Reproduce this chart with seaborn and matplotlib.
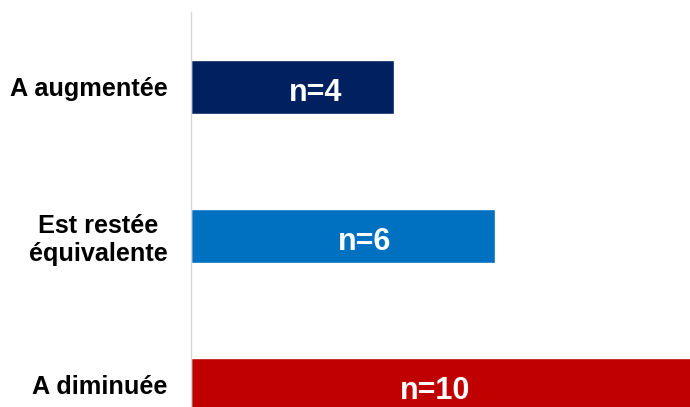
import matplotlib
matplotlib.use("Agg")
import matplotlib.pyplot as plt
import seaborn as sns
import pandas as pd

categories = ["A augmentée", "Est restée\néquivalente", "A diminuée"]
values = [4, 6, 10]
bar_labels = ["n=4", "n=6", "n=10"]
colors = ["#002060", "#0070C0", "#C00000"]

sns.set_theme(style="white")
plt.rcParams["font.family"] = ["Liberation Sans", "DejaVu Sans"]

df = pd.DataFrame({"cat": categories, "val": values})

fig = plt.figure(figsize=(6.9, 4.07), dpi=100)
ax = fig.add_axes([191 / 690, 0.0, 499 / 690, (407 - 12) / 407])

sns.barplot(data=df, x="val", y="cat", hue="cat", palette=colors,
            orient="h", width=0.36, legend=False, ax=ax, saturation=1)

ax.set_xlim(0, 9.84)
ax.set_ylim(2.148, -0.503)
ax.set_xlabel("")
ax.set_ylabel("")
ax.set_xticks([])
for s in ["top", "right", "bottom"]:
    ax.spines[s].set_visible(False)
ax.spines["left"].set_color("#D9D9D9")
ax.spines["left"].set_linewidth(1.0)
ax.tick_params(axis="y", length=0, pad=17)
for lbl in ax.get_yticklabels():
    lbl.set_fontsize(18.2)
    lbl.set_fontweight("bold")
    lbl.set_color("black")
    lbl.set_multialignment("center")

label_x = [2.45, 3.43, 4.81]
for i, (t, xx) in enumerate(zip(bar_labels, label_x)):
    ax.text(xx, i + 0.04, t, color="white", fontsize=22, fontweight="bold",
            ha="center", va="center", clip_on=False)

fig.savefig("out.png", dpi=100)
